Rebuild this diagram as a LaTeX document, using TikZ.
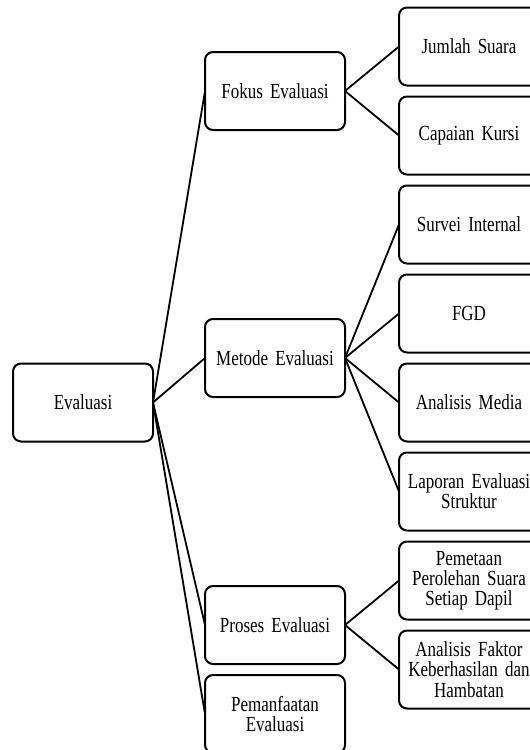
\documentclass[tikz,border=0pt]{standalone}
\usepackage{fontspec}
\setmainfont{Liberation Serif}
\newfontfamily\boxfont{Liberation Serif}[FakeStretch=0.79]
\newcommand\boxtext{\boxfont\fontsize{21.5}{20.2}\selectfont\fontdimen2\font=3.4pt\relax}
\usetikzlibrary{positioning, calc}

\begin{document}
\begin{tikzpicture}[x=1pt, y=-1pt, node distance=11pt and 52pt,
      box/.style={draw, line width=2pt, rounded corners=8pt, outer sep=0pt,
                  text width=128pt, inner xsep=6pt, inner ysep=0pt,
                  minimum height=78pt, align=center, font=\boxtext},
      link/.style={line width=1.8pt}]

    \useasboundingbox (0,0) rectangle (530,750);

    % right column
    \node[box] at (469,46.5)   (jumlah)   {Jumlah Suara};
    \node[box, below=of jumlah]   (kursi)    {Capaian Kursi};
    \node[box, below=of kursi]    (survei)   {Survei Internal};
    \node[box, below=of survei]   (fgd)      {FGD};
    \node[box, below=of fgd]      (media)    {Analisis Media};
    \node[box, below=of media]    (laporan)  {Laporan Evaluasi\\Struktur};
    \node[box, below=of laporan]  (pemetaan) {Pemetaan\\Perolehan Suara\\Setiap Dapil};
    \node[box, below=of pemetaan] (faktor)   {Analisis Faktor\\Keberhasilan dan\\Hambatan};

    % middle column, centred on its children
    \coordinate (fokusc)  at ($(jumlah.west)!0.5!(kursi.west)$);
    \coordinate (metodec) at ($(survei.west)!0.5!(laporan.west)$);
    \coordinate (prosesc) at ($(pemetaan.west)!0.5!(faktor.west)$);
    \node[box, left=54pt of fokusc]  (fokus)  {Fokus Evaluasi};
    \node[box, left=54pt of metodec] (metode) {Metode Evaluasi};
    \node[box, left=54pt of prosesc] (proses) {Proses Evaluasi};
    \node[box, below=of proses]      (manfaat) {Pemanfaatan\\Evaluasi};

    % root
    \coordinate (evalc) at ($(fokus.west)!0.5!(manfaat.west)$);
    \node[box, left=of evalc] (eval) {Evaluasi};

    \draw[link] (eval.east) -- (fokus.west);
    \draw[link] (eval.east) -- (metode.west);
    \draw[link] (eval.east) -- (proses.west);
    \draw[link] (eval.east) -- (manfaat.west);

    \draw[link] (fokus.east) -- (jumlah.west);
    \draw[link] (fokus.east) -- (kursi.west);

    \draw[link] (metode.east) -- (survei.west);
    \draw[link] (metode.east) -- (fgd.west);
    \draw[link] (metode.east) -- (media.west);
    \draw[link] (metode.east) -- (laporan.west);

    \draw[link] (proses.east) -- (pemetaan.west);
    \draw[link] (proses.east) -- (faktor.west);
  \end{tikzpicture}
\end{document}
